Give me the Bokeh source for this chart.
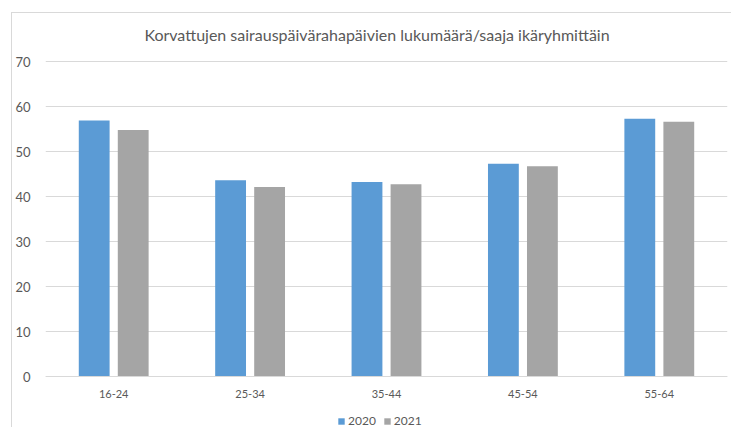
from bokeh.plotting import figure
from bokeh.models import (FactorRange, Range1d, ColumnDataSource, Label, Legend,
                          LegendItem, FixedTicker)
from bokeh.transform import dodge
from bokeh.embed import file_html
from bokeh.resources import INLINE

# ---- data ----
categories = ["16-24", "25-34", "35-44", "45-54", "55-64"]
values_2020 = [56.9, 43.6, 43.2, 47.3, 57.3]
values_2021 = [54.8, 42.1, 42.7, 46.7, 56.6]
series_labels = ["2020", "2021"]
y_ticks = [0, 10, 20, 30, 40, 50, 60, 70]
title_text = "Korvattujen sairauspäivärahapäivien lukumäärä/saaja ikäryhmittäin"

BLUE = "#5B9BD5"
GRAY = "#A5A5A5"
TEXT = "#595959"
LINE = "#D9D9D9"
FONT = "Lato"

# layout: plot area is 315 px for 0..70 (4.5 px per unit); extra room above
# for the title and below for category labels and legend
PX_PER_UNIT = 4.5
Y_MIN = -52 / PX_PER_UNIT
Y_MAX = 70 + 48 / PX_PER_UNIT

source = ColumnDataSource(dict(cat=categories, v2020=values_2020, v2021=values_2021))

p = figure(x_range=FactorRange(factors=categories), y_range=Range1d(Y_MIN, Y_MAX),
           width=720, height=415, output_backend="svg", toolbar_location=None,
           min_border_left=33, min_border_right=5, min_border_top=0,
           min_border_bottom=0, margin=(12, 0, 0, 11))
p.styles = {"border-left": f"1px solid {LINE}", "border-top": f"1px solid {LINE}"}
p.outline_line_color = None
p.background_fill_color = "white"
p.border_fill_color = "white"

r1 = p.vbar(x=dodge("cat", -0.143, range=p.x_range), top="v2020", bottom=0,
            width=0.226, source=source, fill_color=BLUE, line_color=None)
r2 = p.vbar(x=dodge("cat", 0.143, range=p.x_range), top="v2021", bottom=0,
            width=0.226, source=source, fill_color=GRAY, line_color=None)

# axes
p.xaxis.fixed_location = 0
p.xaxis.axis_line_color = LINE
p.xaxis.major_tick_line_color = None
p.xaxis.minor_tick_line_color = None
p.xaxis.major_label_text_font = FONT
p.xaxis.major_label_text_font_size = "11px"
p.xaxis.major_label_text_color = TEXT
p.xaxis.major_label_standoff = 7

p.yaxis.ticker = FixedTicker(ticks=y_ticks)
p.yaxis.axis_line_color = None
p.yaxis.major_tick_line_color = None
p.yaxis.minor_tick_line_color = None
p.yaxis.major_label_text_font = FONT
p.yaxis.major_label_text_font_size = "13px"
p.yaxis.major_label_text_color = TEXT
p.yaxis.major_label_standoff = 9

p.xgrid.grid_line_color = None
p.ygrid.grid_line_color = LINE
p.ygrid.grid_line_width = 1
p.ygrid.ticker = FixedTicker(ticks=y_ticks)

# title
p.add_layout(Label(x=331.5, y=394, x_units="screen", y_units="screen",
                   text=title_text, text_align="center", text_baseline="middle",
                   text_font=FONT, text_font_size="16px", text_color=TEXT))

legend = Legend(items=[LegendItem(label=series_labels[0], renderers=[r1]),
                       LegendItem(label=series_labels[1], renderers=[r2])],
                location=(292, 0), orientation="horizontal",
                glyph_width=8, glyph_height=8, label_standoff=3, spacing=7,
                padding=0, margin=0, border_line_color=None,
                background_fill_alpha=0, label_text_font=FONT,
                label_text_font_size="12px", label_text_color=TEXT,
                label_height=12)
p.add_layout(legend, "center")

with open("out.html", "w") as f:
    f.write(file_html(p, INLINE))
